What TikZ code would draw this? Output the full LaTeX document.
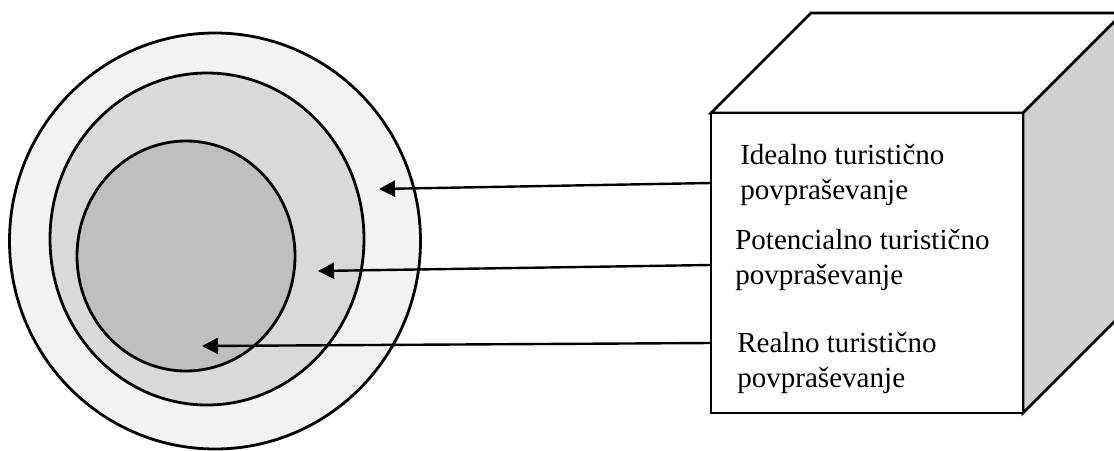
\documentclass[tikz,border=0pt]{standalone}
\usepackage{fontspec}
\setmainfont{Liberation Serif}
\usetikzlibrary{arrows.meta}

\definecolor{ringout}{RGB}{242,242,242}
\definecolor{ringmid}{RGB}{217,217,217}
\definecolor{ringin}{RGB}{191,191,191}
\definecolor{sideface}{RGB}{208,208,208}

\begin{document}
\begin{tikzpicture}[x=0.75pt,y=-0.75pt,
    ring/.style={draw=black,line width=2.1pt},
    face/.style={draw=black,line width=2.1pt,line join=miter},
    pointer/.style={line width=1.8pt,-{Triangle[length=12pt,width=12pt]}},
    demand/.style={anchor=base west,align=left,inner sep=0pt,
        font=\fontsize{21.8}{26.25}\selectfont}]

    \useasboundingbox (0,0) rectangle (1114,450);

    \def\d{100}	 %depth of the cube
    \def\fx{711} \def\fy{113}	 %front top left
    \def\fw{312} \def\fh{300}	 %front width, height

    %RINGS
    \draw[ring,fill=ringout] (215,241) ellipse (205.5 and 208);
    \draw[ring,fill=ringmid] (207,239) ellipse (157 and 166);
    \draw[ring,fill=ringin]  (186,256) ellipse (109 and 115);

    %CUBE
    \draw[face,fill=white] (\fx,\fy)--++(\d,-\d)--++(\fw,0)--++(-\d,\d)--cycle;
    \draw[face,fill=sideface] (\fx+\fw,\fy)--++(\d,-\d)--++(0,\fh)--++(-\d,\d)--cycle;
    \draw[face,fill=white] (\fx,\fy) rectangle ++(\fw,\fh);

    %labels on the front face (anchored on the last line)
    \node[demand] (ideal) at (740,199) {Idealno turistično\\povpraševanje};
    \node[demand] (poten) at (735,284) {Potencialno turistično\\povpraševanje};
    \node[demand] (real)  at (737,387) {Realno turistično\\povpraševanje};

    %ARROWS: from the face into each ring
    \coordinate (s1) at (\fx,183);	\coordinate (t1) at (379,189);
    \coordinate (s2) at (\fx,265);	\coordinate (t2) at (318,271);
    \coordinate (s3) at (\fx,343);	\coordinate (t3) at (202,346);
    \foreach \i in {1,2,3}{
        \draw[pointer] (s\i) -- (t\i);
    } %end of arrow loop
\end{tikzpicture}
\end{document}
